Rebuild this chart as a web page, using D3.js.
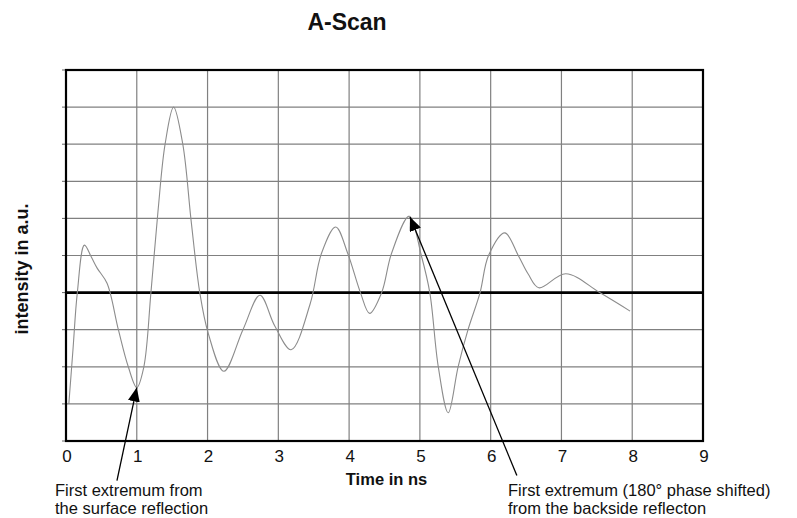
<!DOCTYPE html>
<html>
<head>
<meta charset="utf-8">
<script src="https://cdn.jsdelivr.net/npm/d3@7"></script>
<style>
  body { margin: 0; background: #fff; }
  text { font-family: "Liberation Sans", Arial, sans-serif; }
</style>
</head>
<body>
<svg id="drawing_region"></svg>
<script>
// A-Scan signal
const times = [0.04, 0.10, 0.16, 0.26, 0.36, 0.44, 0.58, 0.74, 0.88, 1.00,
               1.10, 1.20, 1.30, 1.40, 1.52, 1.65, 1.77, 1.89, 2.01, 2.23,
               2.50, 2.74, 2.95, 3.18, 3.45, 3.61, 3.81, 3.98, 4.16, 4.29,
               4.46, 4.60, 4.85, 5.02, 5.14, 5.26, 5.40, 5.54, 5.68,
               5.85, 5.97, 6.20, 6.39, 6.53, 6.68, 7.06, 7.54, 7.97];
const intensity = [-3.0, -1.5, 0.0, 1.28, 0.95, 0.66, 0.25, -1.0, -2.0, -2.56,
               -2.0, 0.0, 2.2, 4.0, 5.0, 4.0, 1.9, 0.0, -1.1, -2.12,
               -1.0, -0.07, -0.9, -1.54, -0.3, 1.06, 1.77, 1.06, 0.0, -0.56,
               0.0, 1.06, 2.06, 1.0, 0.0, -2.0, -3.24, -2.0, -1.0,
               0.0, 1.0, 1.61, 1.0, 0.5, 0.13, 0.51, 0.0, -0.5];

const xTicks = [0, 1, 2, 3, 4, 5, 6, 7, 8, 9];
const yTicks = [-4, -3, -2, -1, 0, 1, 2, 3, 4, 5, 6];

// annotations: arrow tip at the extremum, tail under the axis (data units)
const noteTexts = [["First extremum from", "the surface reflection"],
                   ["First extremum (180° phase shifted)", "from the backside reflecton"]];
const noteTips = [[1.0, -2.56], [4.86, 2.04]];
const noteTails = [[0.72, -5.07], [6.37, -4.93]];
const noteTextX = [55, 508];

const config = {
    width: 797,
    height: 518,
    margin: {top: 70, right: 94, bottom: 77, left: 66}
};

const svg = d3.select('#drawing_region')
    .attr('width', config.width)
    .attr('height', config.height);

const inner_width = config.width - config.margin.left - config.margin.right;
const inner_height = config.height - config.margin.top - config.margin.bottom;

const xscale = d3.scaleLinear().domain([0, 9]).range([0, inner_width]);
const yscale = d3.scaleLinear().domain([-4, 6]).range([inner_height, 0]);

const chart = svg.append('g')
    .attr('transform', `translate(${config.margin.left}, ${config.margin.top})`);

// grid
chart.selectAll('.vgrid')
    .data(xTicks.slice(1, -1))
    .enter().append('line')
    .attr('x1', d => xscale(d)).attr('x2', d => xscale(d))
    .attr('y1', 0).attr('y2', inner_height)
    .attr('stroke', '#808080').attr('stroke-width', 1.2);

chart.selectAll('.hgrid')
    .data(yTicks.slice(1, -1))
    .enter().append('line')
    .attr('x1', 0).attr('x2', inner_width)
    .attr('y1', d => yscale(d)).attr('y2', d => yscale(d))
    .attr('stroke', '#808080').attr('stroke-width', 1.2);

// y ticks (no labels)
chart.selectAll('.ytick')
    .data(yTicks)
    .enter().append('line')
    .attr('x1', -4).attr('x2', 0)
    .attr('y1', d => yscale(d)).attr('y2', d => yscale(d))
    .attr('stroke', '#666').attr('stroke-width', 1);

// x tick labels
chart.selectAll('.xlabel')
    .data(xTicks)
    .enter().append('text')
    .attr('x', d => xscale(d) + 1)
    .attr('y', inner_height + 21)
    .attr('text-anchor', 'middle')
    .attr('font-size', '17px')
    .attr('fill', '#111')
    .text(d => d);

// zero line
chart.append('line')
    .attr('x1', 0).attr('x2', inner_width)
    .attr('y1', yscale(0)).attr('y2', yscale(0))
    .attr('stroke', 'black').attr('stroke-width', 2.6);

// frame
chart.append('rect')
    .attr('x', 0).attr('y', 0)
    .attr('width', inner_width).attr('height', inner_height)
    .attr('fill', 'none')
    .attr('stroke', 'black').attr('stroke-width', 2.2);

// signal
const points = times.map((t, i) => [t, intensity[i]]);
const line = d3.line()
    .x(d => xscale(d[0]))
    .y(d => yscale(d[1]))
    .curve(d3.curveCatmullRom.alpha(0.5));

chart.append('path')
    .datum(points)
    .attr('d', line)
    .attr('fill', 'none')
    .attr('stroke', '#8c8c8c')
    .attr('stroke-width', 1.1);

// arrows
svg.append('defs').append('marker')
    .attr('id', 'arrowhead')
    .attr('markerUnits', 'userSpaceOnUse')
    .attr('viewBox', '0 0 14 12')
    .attr('markerWidth', 14).attr('markerHeight', 12)
    .attr('refX', 14).attr('refY', 6)
    .attr('orient', 'auto')
    .append('path')
    .attr('d', 'M0,0 L14,6 L0,12 z')
    .attr('fill', 'black');

chart.selectAll('.arrow')
    .data(noteTips)
    .enter().append('line')
    .attr('x1', (d, i) => xscale(noteTails[i][0]))
    .attr('y1', (d, i) => yscale(noteTails[i][1]))
    .attr('x2', d => xscale(d[0]))
    .attr('y2', d => yscale(d[1]))
    .attr('stroke', 'black')
    .attr('stroke-width', 1.3)
    .attr('marker-end', 'url(#arrowhead)');

// annotation texts, one text per line
noteTexts.forEach((lines, i) => {
    svg.selectAll('.note' + i)
        .data(lines)
        .enter().append('text')
        .attr('x', noteTextX[i])
        .attr('y', (d, j) => 496 + j * 18)
        .attr('font-size', '16.5px')
        .attr('fill', '#111')
        .text(d => d);
});

// titles
svg.append('text')
    .attr('x', 347)
    .attr('y', 30)
    .attr('text-anchor', 'middle')
    .attr('font-size', '23px')
    .attr('font-weight', 'bold')
    .attr('fill', '#111')
    .text('A-Scan');

svg.append('text')
    .attr('x', config.margin.left + inner_width / 2 + 2)
    .attr('y', 485)
    .attr('text-anchor', 'middle')
    .attr('font-size', '16.5px')
    .attr('font-weight', 'bold')
    .attr('fill', '#111')
    .text('Time in ns');

svg.append('text')
    .attr('transform', 'translate(28, 269) rotate(-90)')
    .attr('text-anchor', 'middle')
    .attr('font-size', '18px')
    .attr('font-weight', 'bold')
    .attr('fill', '#111')
    .text('intensity in a.u.');
</script>
</body>
</html>
